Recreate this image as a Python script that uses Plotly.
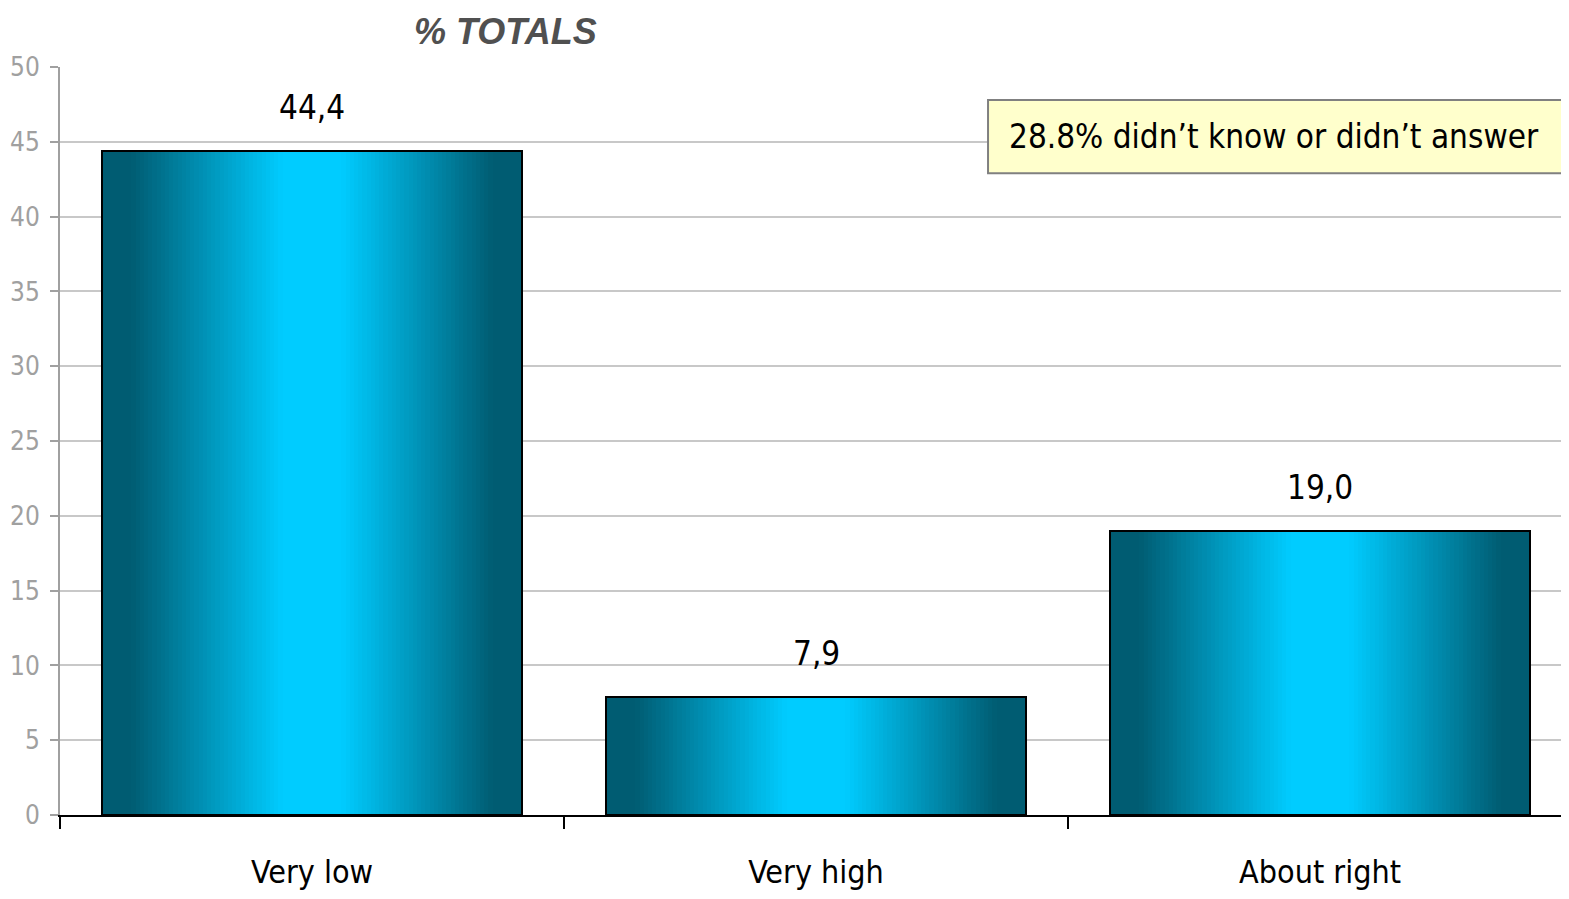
import plotly.graph_objects as go

# ---- data ----
categories = ["Very low", "Very high", "About right"]
values = [44.4, 7.9, 19.0]
title_text = "% TOTALS"
note_text = "28.8% didn\u2019t know or didn\u2019t answer"
y_ticks = [0, 5, 10, 15, 20, 25, 30, 35, 40, 45, 50]

NARROW = "DejaVu Sans Condensed, Liberation Sans Narrow, Arial Narrow, sans-serif"
BAR_W = 0.833
N_STEPS = 50
BRIGHT = (0x00, 0xCC, 0xFF)
DARK = (0x00, 0x5C, 0x72)


def grad_color(d):
    t = (d - 0.15) / 0.72
    t = max(0.0, min(1.0, t))
    c = [round(BRIGHT[i] + (DARK[i] - BRIGHT[i]) * t) for i in range(3)]
    return f"rgb({c[0]},{c[1]},{c[2]})"


fig = go.Figure()

# gradient: concentric bars from outer (dark) to inner (bright)
for k in range(N_STEPS):
    frac = 1 - k / N_STEPS
    fig.add_trace(go.Bar(
        x=categories, y=values,
        width=[BAR_W * frac] * len(categories),
        marker=dict(color=grad_color(frac), line=dict(width=0)),
        hoverinfo="skip", showlegend=False,
    ))

# outline
fig.add_trace(go.Bar(
    x=categories, y=values,
    width=[BAR_W] * len(categories),
    marker=dict(color="rgba(0,0,0,0)", line=dict(color="black", width=2)),
    showlegend=False,
))

# value labels
for c, v in zip(categories, values):
    fig.add_annotation(
        x=c, y=v, xref="x", yref="y",
        text=f"{v:.1f}".replace(".", ","),
        showarrow=False, yanchor="bottom", yshift=22,
        font=dict(family=NARROW, size=33, color="black"),
    )

# title
fig.add_annotation(
    x=0.295, y=1.047, xref="paper", yref="paper",
    text=f"<b><i>{title_text}</i></b>", showarrow=False,
    xanchor="center", yanchor="middle",
    font=dict(family="Liberation Sans, Arial, sans-serif", size=36, color="#505050"),
)

# note box
fig.add_shape(
    type="rect", xref="paper", yref="paper",
    x0=0.615, x1=1.05, y0=0.858, y1=0.956,
    fillcolor="#FFFFCC", line=dict(color="#808080", width=2), layer="above",
)
fig.add_annotation(
    x=0.6276, y=0.907, xref="paper", yref="paper",
    text=note_text, showarrow=False, xanchor="left", yanchor="middle",
    font=dict(family=NARROW, size=33, color="black"),
)

# page body has an 8px margin: shrink the figure so it fits the window exactly
fig.update_layout(
    width=1561, height=891,
    margin=dict(l=52, r=0, t=59, b=84),
    paper_bgcolor="white", plot_bgcolor="white",
    barmode="overlay", bargap=0,
    xaxis=dict(
        range=[-0.5, 2.494],
        showline=True, linecolor="black", linewidth=2,
        ticks="outside", tickson="boundaries", ticklen=12, tickcolor="black", tickwidth=2,
        showgrid=False, ticklabelstandoff=28,
        tickfont=dict(family=NARROW, size=32, color="black"),
    ),
    yaxis=dict(
        range=[0, 50], tickvals=y_ticks,
        showline=True, linecolor="#A0A0A0", linewidth=2,
        ticks="outside", ticklen=8, tickcolor="#A0A0A0", tickwidth=2,
        showgrid=True, gridcolor="#C8C8C8", gridwidth=2,
        zeroline=False, ticklabelstandoff=5,
        tickfont=dict(family=NARROW, size=26, color="#A0A0A0"),
    ),
)

fig.write_html("out.html")
